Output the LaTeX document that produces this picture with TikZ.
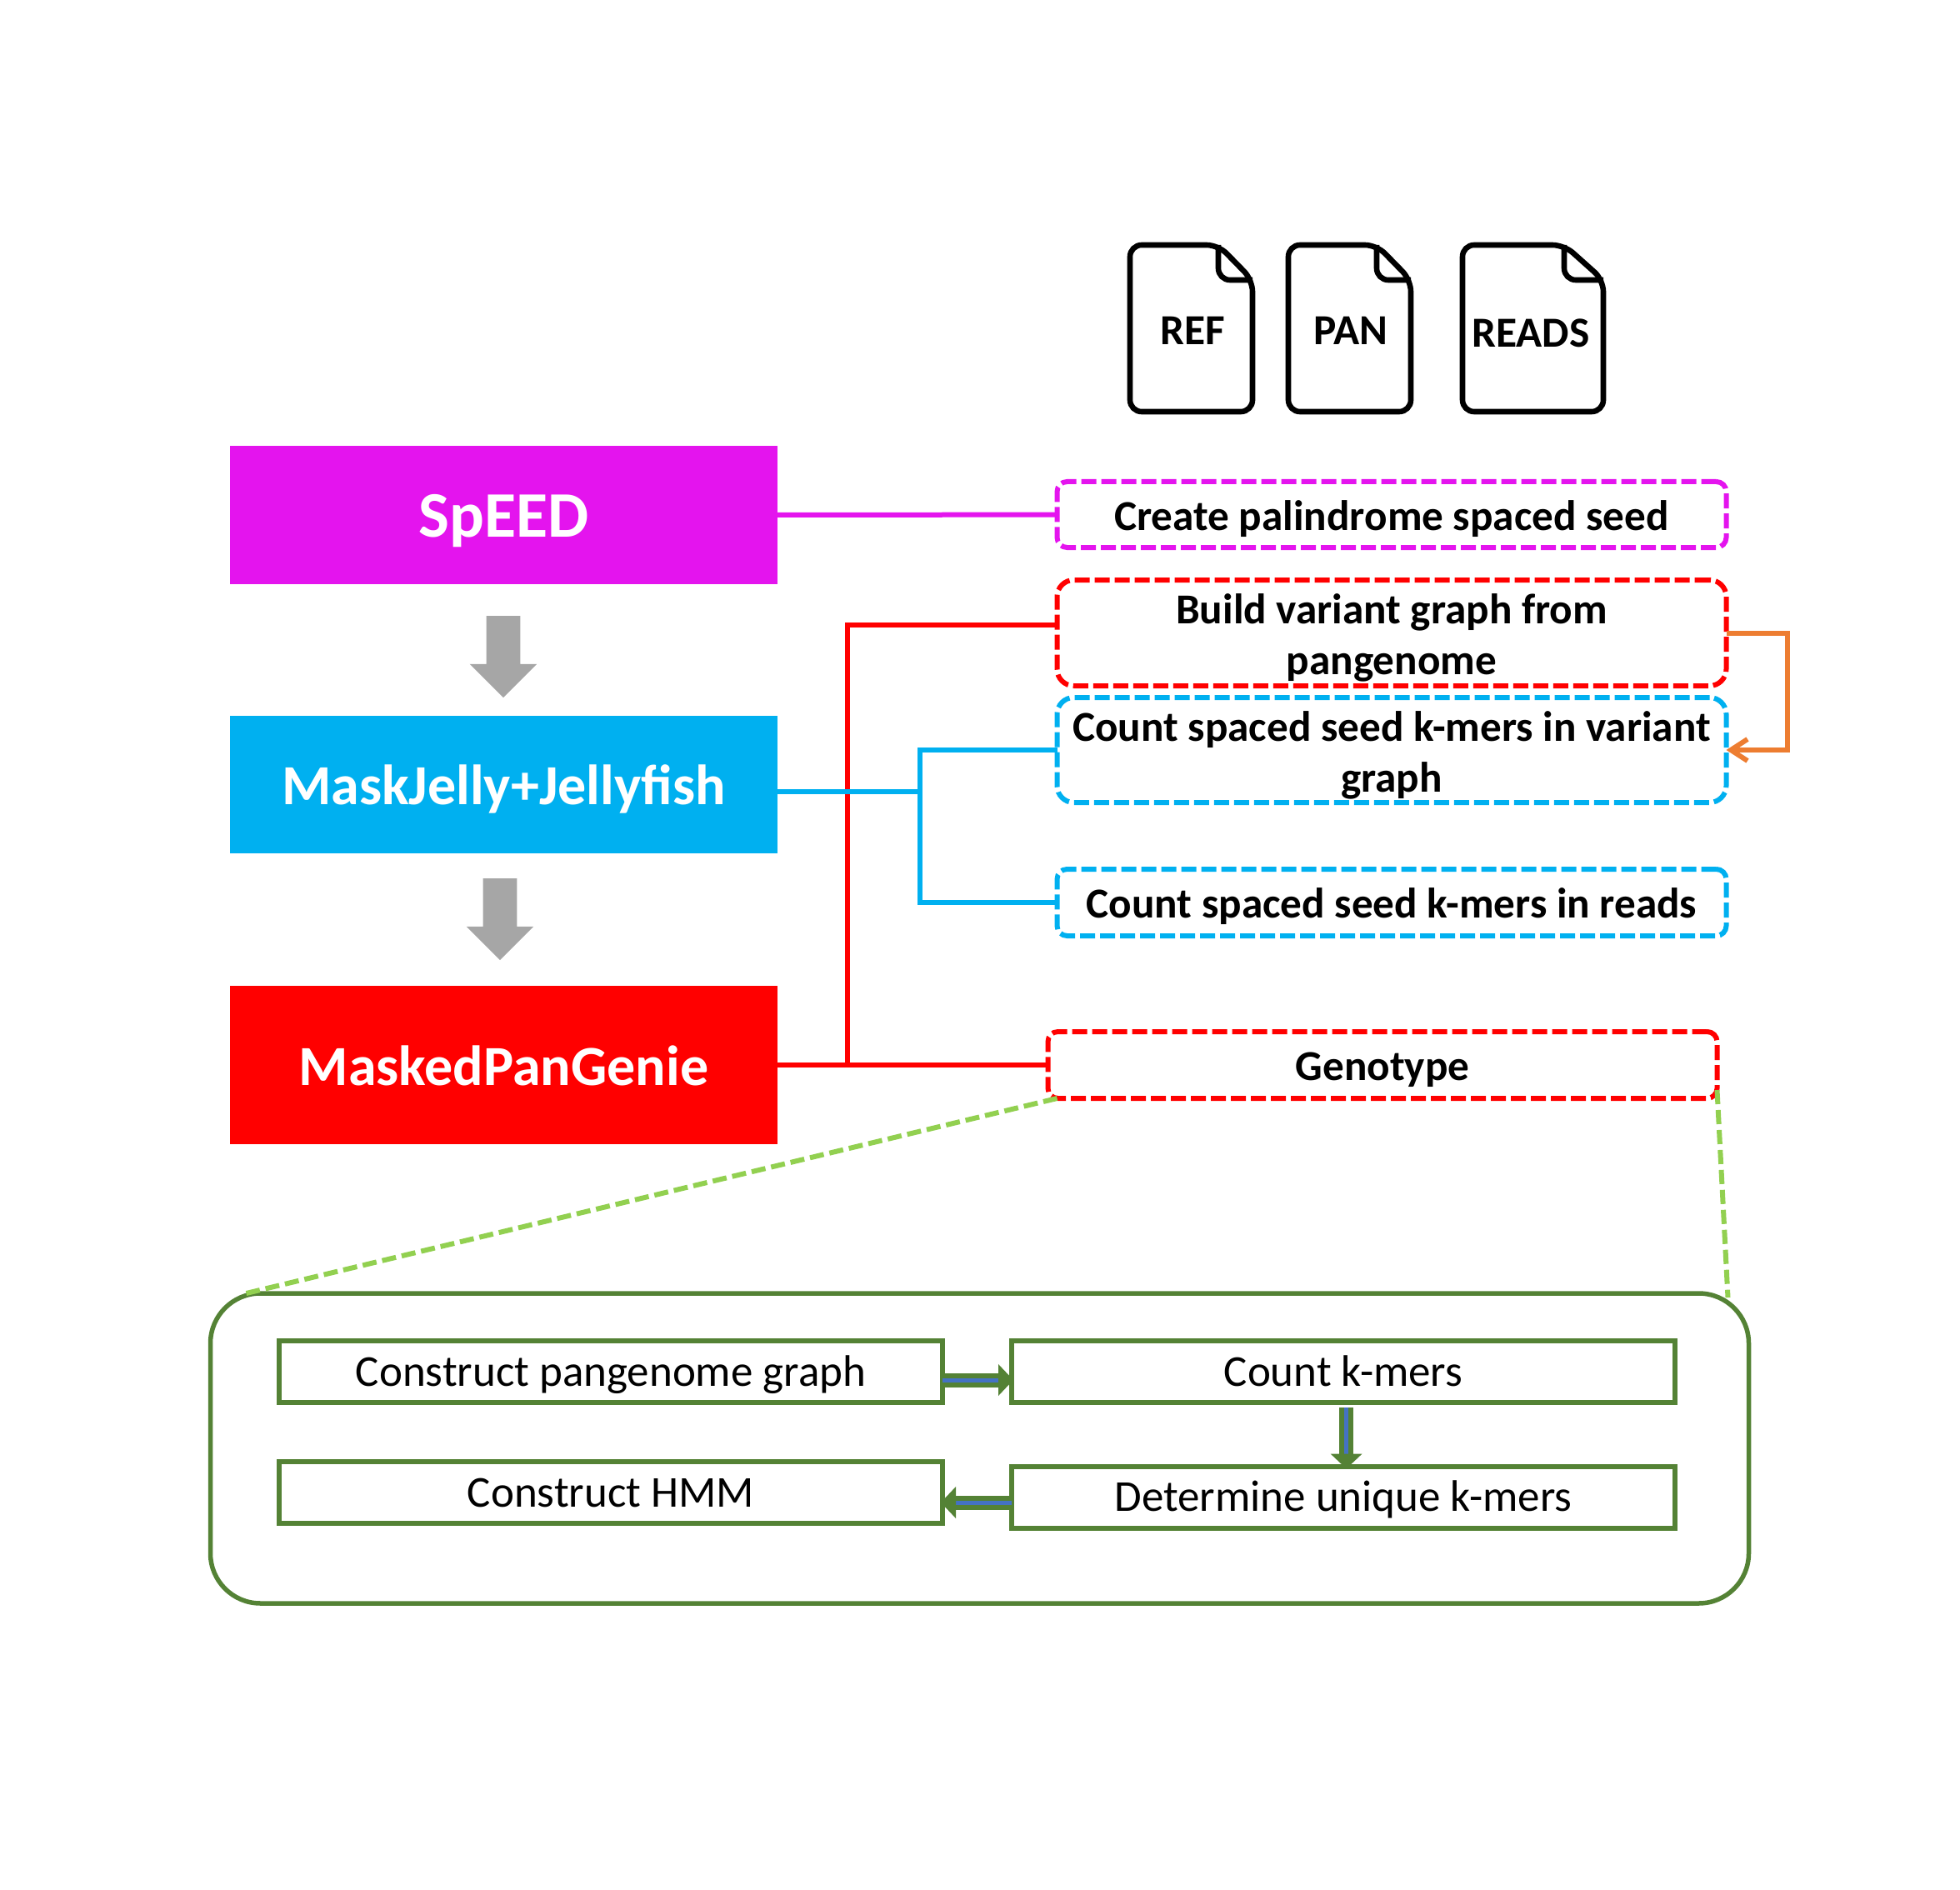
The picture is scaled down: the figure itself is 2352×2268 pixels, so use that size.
\documentclass[tikz,border=0pt]{standalone}
\usepackage{fontspec}
\setmainfont{Carlito}
\usetikzlibrary{arrows, arrows.meta, shapes.arrows}

\definecolor{speedpink}{HTML}{E414EE}
\definecolor{jellyblue}{HTML}{00B0F0}
\definecolor{panelgreen}{HTML}{548235}
\definecolor{zoomgreen}{HTML}{92D050}
\definecolor{flowblue}{HTML}{4472C4}
\definecolor{feedorange}{HTML}{ED7D31}
\definecolor{downgray}{HTML}{A6A6A6}

\tikzset{
    toolbox/.style={minimum width=328.5pt, inner sep=0pt, outer sep=0pt, text=white, text height=24pt, text depth=0pt, font=\fontsize{34}{40}\selectfont\bfseries},
    taskbox/.style={draw, dash pattern=on 9pt off 3pt, line width=3pt, minimum width=401.5pt, inner sep=0pt, outer sep=0pt, align=center, text depth=0pt, font=\fontsize{25.6}{30.5}\selectfont\bfseries},
    substep/.style={draw=panelgreen, line width=3pt, minimum width=398pt, minimum height=37pt, inner sep=0pt, outer sep=0pt, text height=17pt, text depth=0pt, font=\fontsize{26.5}{30}\selectfont},
    downarrow/.style={single arrow, fill=downgray, rotate=-90, minimum width=40pt, minimum height=49pt, single arrow head extend=10pt, single arrow tip angle=90, inner sep=10pt},
    wire/.style={line width=3pt},
    stepflow/.style={draw=panelgreen, double=flowblue, double distance=2.5pt, line width=3pt, -{Triangle[length=9pt,width=18.5pt]}},
    zoomline/.style={draw=zoomgreen, line width=3pt, dash pattern=on 8.5pt off 3.5pt}
}

\begin{document}
\begin{tikzpicture}[x=0.5pt, y=-0.5pt]
\useasboundingbox (0,0) rectangle (2352,2268);

\foreach \docname/\docl/\docr/\docfold/\docm/\docy in {REF/1356/1503/41/1431/397, PAN/1546/1693/41/1621/397, READS/1755/1924/47/1837/400} {
    \draw[line width=3.3pt, line join=round, rounded corners=7pt] (\docl+50,294) -- (\docl,294) -- (\docl,494) -- (\docr,494) -- (\docr,336) -- (\docr-\docfold,294) -- cycle;
    \draw[line width=3.3pt, line join=round, rounded corners=7pt] (\docr-\docfold,294) -- (\docr-\docfold,336) -- (\docr,336);
    \node[font=\fontsize{25.7}{30}\selectfont\bfseries] (doc\docname) at (\docm,\docy) {\docname};
}

\node[toolbox, fill=speedpink, minimum height=82.5pt, text height=27pt, font=\fontsize{39}{44}\selectfont\bfseries] (speed) at (604.5,618) {SpEED};
\node[toolbox, fill=jellyblue, minimum height=82.5pt] (maskjelly) at (604.5,941.5) {MaskJelly+Jellyfish};
\node[toolbox, fill=red, minimum height=95pt] (maskedpan) at (604.5,1278) {MaskedPanGenie};

\node[downarrow] (speedarrow) at (604,778) {};
\node[downarrow] (jellyarrow) at (600,1093) {};

\node[taskbox, draw=speedpink, minimum height=39.5pt, rounded corners=6pt, text height=18.5pt] (palindrome) at (1670,617.5) {Create palindrome spaced seed};
\node[taskbox, draw=red, minimum height=63.5pt, rounded corners=10pt, text height=50pt] (buildgraph) at (1670,759.5) {Build variant graph from\\pangenome};
\node[taskbox, draw=jellyblue, minimum height=63pt, rounded corners=10pt, text height=50pt] (countvariant) at (1670,900) {Count spaced seed k-mers in variant\\graph};
\node[taskbox, draw=jellyblue, minimum height=40pt, rounded corners=6pt, text height=18.5pt] (countreads) at (1670,1083) {Count spaced seed k-mers in reads};
\node[taskbox, draw=red, minimum height=40pt, rounded corners=6pt, text height=18.5pt] (genotype) at (1659,1278) {Genotype};

\coordinate (redjoin) at (1017,1278);
\coordinate (bluejoin) at (1104,950);

\draw[wire, speedpink] (speed) -- (palindrome);
\draw[wire, red] (maskedpan) -- (genotype);
\draw[wire, red] (redjoin) |- ([yshift=4.75pt]buildgraph.west);
\draw[wire, jellyblue] ([yshift=-4.25pt]maskjelly.east) -- (bluejoin);
\draw[wire, jellyblue] (bluejoin) |- (countvariant.west);
\draw[wire, jellyblue] (bluejoin) |- (countreads.west);
\draw[wire, feedorange, -{Straight Barb[length=10pt,width=13pt]}] (buildgraph.east) -- ++(73,0) |- (countvariant.east);

\node[draw=panelgreen, line width=2.75pt, minimum width=923pt, minimum height=186pt, rounded corners=30pt, inner sep=0pt, outer sep=0pt] (panel) at (1175.5,1738) {};
\draw[zoomline] ([xshift=5.5pt]genotype.south west) -- ([xshift=21.5pt]panel.north west);
\draw[zoomline] ([yshift=5pt]genotype.south east) -- ([xshift=-12.5pt,yshift=-2.5pt]panel.north east);

\node[substep] (pangraph) at (733,1646) {Construct pangenome graph};
\node[substep] (countk) at (1612,1646) {Count k-mers};
\node[substep] (unique) at (1612,1796.5) {Determine unique k-mers};
\node[substep] (hmm) at (733,1791) {Construct HMM};

\draw[stepflow] ([yshift=-5pt]pangraph.east) -- ([xshift=1pt,yshift=-5pt]countk.west);
\draw[stepflow] ([xshift=1.8pt,yshift=-3pt]countk.south) -- ([xshift=1.8pt,yshift=-1.5pt]unique.north);
\draw[stepflow] ([yshift=-3.25pt]unique.west) -- ([xshift=-1pt,yshift=-6pt]hmm.east);

\end{tikzpicture}
\end{document}
